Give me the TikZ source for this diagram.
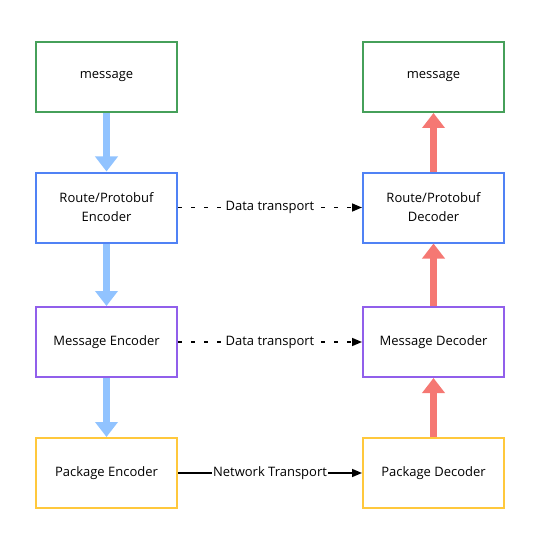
\documentclass[tikz,border=0pt]{standalone}
\usepackage{fontspec}
\setmainfont{Open Sans}
\usetikzlibrary{positioning,arrows.meta}

\definecolor{boxgreen}{RGB}{70,160,90}
\definecolor{boxblue}{RGB}{80,130,245}
\definecolor{boxpurple}{RGB}{145,95,235}
\definecolor{boxyellow}{RGB}{255,200,60}
\definecolor{encarrow}{RGB}{145,195,255}
\definecolor{decarrow}{RGB}{245,120,115}

\tikzset{
  stage/.style={draw, line width=2, minimum width=141, minimum height=70, align=center, font=\fontsize{13}{19}\selectfont},
  encflow/.style={draw=encarrow, line width=7, -{Triangle[width=22,length=15]}, encarrow},
  decflow/.style={draw=decarrow, line width=7, -{Triangle[width=22,length=15]}, decarrow},
  transport/.style={line width=1.5, -{Triangle[width=8,length=10]}},
  dotted transport/.style={transport, dash pattern=on 4 off 9},
  linklabel/.style={fill=white, inner sep=4, font=\fontsize{13}{15}\selectfont}
}

\begin{document}
\begin{tikzpicture}[x=1pt, y=-1pt]
\useasboundingbox (0,0) rectangle (551,556);
% encoder side
\node[stage, draw=boxgreen] (msgL) at (106.5,77) {message};
\node[stage, draw=boxblue] (routeL) at (106.5,207.5) {Route/Protobuf\\Encoder};
\node[stage, draw=boxpurple] (msgEnc) at (106.5,342) {Message Encoder};
\node[stage, draw=boxyellow] (pkgEnc) at (106.5,473) {Package Encoder};
% decoder side
\node[stage, draw=boxgreen] (msgR) at (433.5,77) {message};
\node[stage, draw=boxblue] (routeR) at (433.5,207.5) {Route/Protobuf\\Decoder};
\node[stage, draw=boxpurple] (msgDec) at (433.5,342) {Message Decoder};
\node[stage, draw=boxyellow] (pkgDec) at (433.5,473) {Package Decoder};

\draw[encflow] (msgL) -- (routeL);
\draw[encflow] (routeL) -- (msgEnc);
\draw[encflow] (msgEnc) -- (pkgEnc);
\draw[decflow] (pkgDec) -- (msgDec);
\draw[decflow] (msgDec) -- (routeR);
\draw[decflow] (routeR) -- (msgR);

\draw[dotted transport] (routeL) -- node[linklabel] {Data transport} (routeR);
\draw[dotted transport] (msgEnc) -- node[linklabel] {Data transport} (msgDec);
\draw[transport] (pkgEnc) -- node[linklabel, inner sep=1] {Network Transport} (pkgDec);
\end{tikzpicture}
\end{document}
